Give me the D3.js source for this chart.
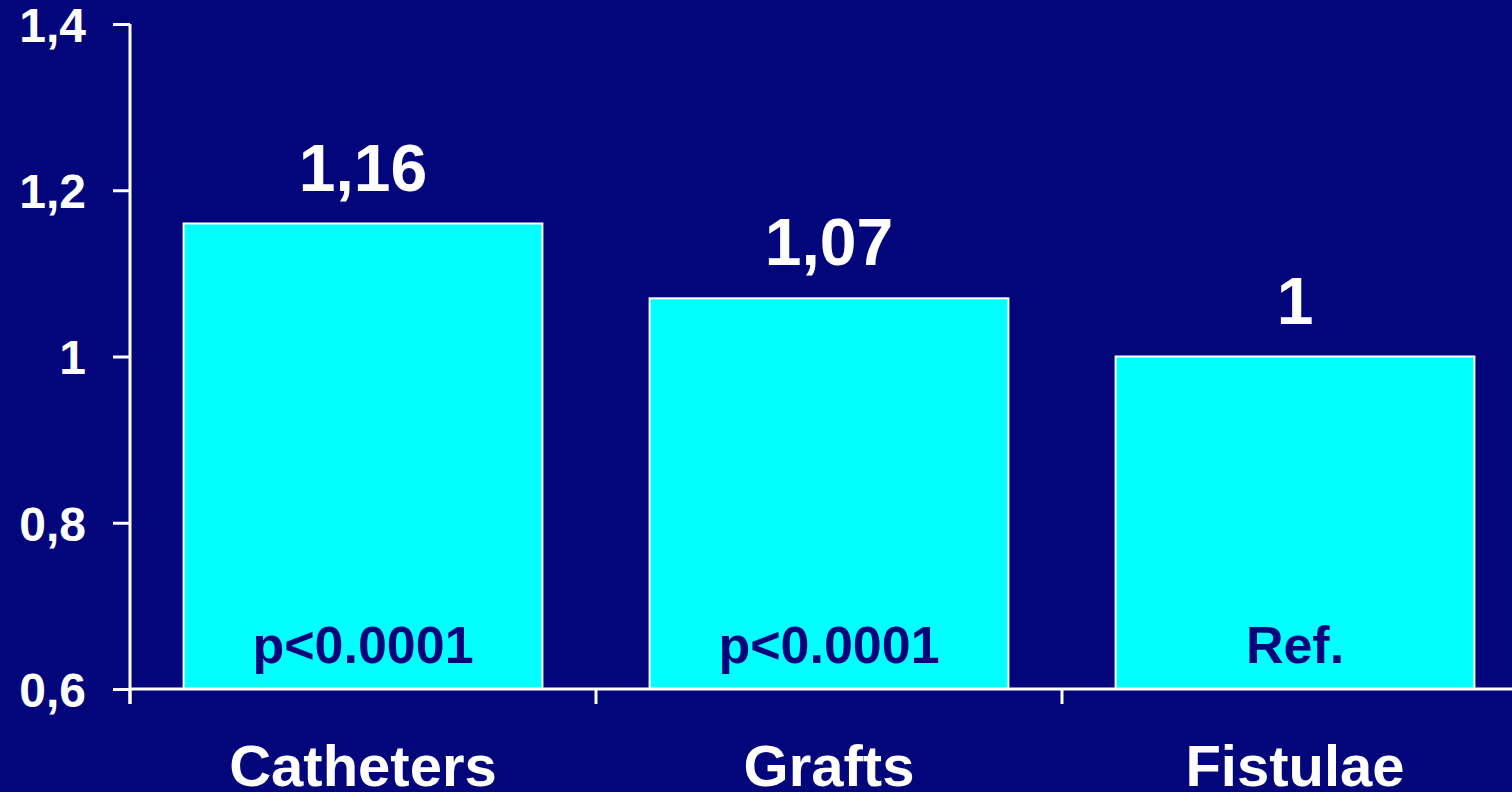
<!DOCTYPE html>
<html>
<head>
<meta charset="utf-8">
<script src="https://cdn.jsdelivr.net/npm/d3@7"></script>
<style>
  html, body { margin: 0; padding: 0; background: #02067a; overflow: hidden; }
  svg { display: block; }
  text { font-family: "Liberation Sans", Arial, sans-serif; font-weight: bold; }
</style>
</head>
<body>
<svg id="chart" width="1512" height="792"></svg>
<script>
// Relative risk by vascular access type
const categories = ["Catheters", "Grafts", "Fistulae"];
const values = [1.16, 1.07, 1.0];
const valueLabels = ["1,16", "1,07", "1"];
const pLabels = ["p<0.0001", "p<0.0001", "Ref."];
const yTicks = [0.6, 0.8, 1.0, 1.2, 1.4];
const yTickLabels = ["0,6", "0,8", "1", "1,2", "1,4"];

const bg = "#02067a";
const barFill = "#00ffff";

const svg = d3.select("#chart");
const x0 = 130, x1 = 1528, yTop = 24, yBottom = 689;

const x = d3.scaleBand()
  .domain(categories)
  .range([x0, x1])
  .paddingInner(0.23)
  .paddingOuter(0.115);

const y = d3.scaleLinear().domain([0.6, 1.4]).range([yBottom, yTop]);

// Bars
svg.selectAll("rect.bar")
  .data(categories)
  .enter().append("rect")
  .attr("class", "bar")
  .attr("x", d => x(d))
  .attr("width", x.bandwidth())
  .attr("y", (d, i) => y(values[i]))
  .attr("height", (d, i) => y(0.6) - y(values[i]))
  .attr("fill", barFill)
  .attr("stroke", "#ffffff")
  .attr("stroke-width", 2);

// Value labels above bars
svg.selectAll("text.val")
  .data(categories)
  .enter().append("text")
  .attr("class", "val")
  .attr("x", d => x(d) + x.bandwidth() / 2)
  .attr("y", (d, i) => y(values[i]) - 33)
  .attr("text-anchor", "middle")
  .attr("fill", "#ffffff")
  .attr("font-size", 66)
  .text((d, i) => valueLabels[i]);

// Significance labels inside bars
svg.selectAll("text.p")
  .data(categories)
  .enter().append("text")
  .attr("class", "p")
  .attr("x", d => x(d) + x.bandwidth() / 2)
  .attr("y", y(0.6) - 26)
  .attr("text-anchor", "middle")
  .attr("fill", bg)
  .attr("font-size", 52)
  .text((d, i) => pLabels[i]);

// Y axis
const yAxis = d3.axisLeft(y)
  .tickValues(yTicks)
  .tickFormat((d, i) => yTickLabels[i])
  .tickSize(17)
  .tickSizeOuter(0)
  .tickPadding(27);

const gy = svg.append("g").attr("transform", `translate(${x0},0)`).call(yAxis);
gy.select(".domain").attr("stroke", "#ffffff").attr("stroke-width", 3)
  .attr("d", `M0,${yTop}V${yBottom + 15}`);
gy.selectAll(".tick line").attr("stroke", "#ffffff").attr("stroke-width", 3);
gy.selectAll(".tick text")
  .attr("fill", "#ffffff")
  .attr("font-size", 48)
  .attr("font-family", "Liberation Sans, Arial, sans-serif")
  .attr("font-weight", "bold")
  .attr("dy", "0.36em");

// X axis: ticks at band boundaries, labels centred under bars
const gx = svg.append("g").attr("transform", `translate(0,${yBottom})`);
gx.append("line")
  .attr("x1", x0).attr("x2", 1512)
  .attr("y1", 0).attr("y2", 0)
  .attr("stroke", "#ffffff").attr("stroke-width", 3);
const boundaries = categories.map(d => x(d) - x.step() * x.paddingOuter());
gx.selectAll("line.tick")
  .data(boundaries)
  .enter().append("line")
  .attr("class", "tick")
  .attr("x1", d => d).attr("x2", d => d)
  .attr("y1", 0).attr("y2", 15)
  .attr("stroke", "#ffffff").attr("stroke-width", 3);
gx.selectAll("text.cat")
  .data(categories)
  .enter().append("text")
  .attr("class", "cat")
  .attr("x", d => x(d) + x.bandwidth() / 2)
  .attr("y", 97)
  .attr("text-anchor", "middle")
  .attr("fill", "#ffffff")
  .attr("font-size", 58)
  .text(d => d);
</script>
</body>
</html>
